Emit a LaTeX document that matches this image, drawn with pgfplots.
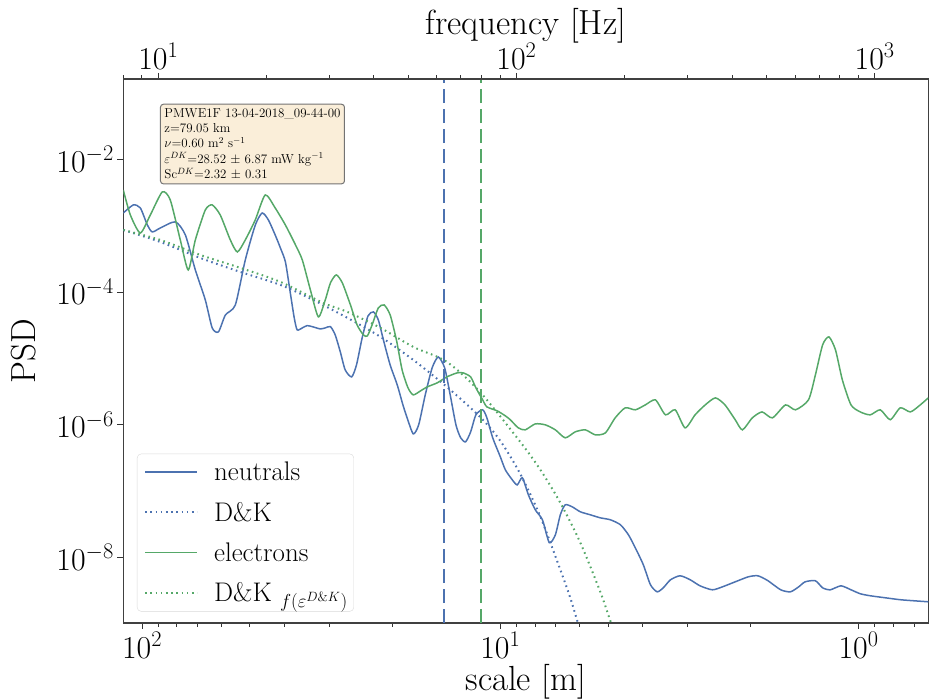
\documentclass[border=0pt]{standalone}
\usepackage{fix-cm}
\usepackage{pgfplots}
\pgfplotsset{compat=1.18}
\definecolor{cblue}{HTML}{4C72B0}
\definecolor{cgreen}{HTML}{55A868}
\definecolor{wheat}{HTML}{F5DEB3}
\begin{document}
\begin{tikzpicture}
\begin{axis}[
  name=main, at={(0,0)}, anchor=south west,
  scale only axis, width=805bp, height=544bp,
  xmode=log, ymode=log, x dir=reverse,
  xmin=0.639, xmax=112.8, ymin=1.03e-9, ymax=0.162,
  xtick={1,10,100},
  minor xtick={0.7,0.8,0.9,2,3,4,5,6,7,8,9,20,30,40,50,60,70,80,90},
  ytick={1e-2,1e-4,1e-6,1e-8}, minor ytick={},
  xtick pos=left, ytick pos=left,
  tick align=outside,
  major tick length=6bp, minor tick length=3.5bp,
  every tick/.style={line width=1bp, black!80},
  axis line style={line width=1.3bp, black!75},
  tick label style={font=\fontsize{32}{36}\selectfont},
  xlabel={scale [m]}, ylabel={PSD},
  xlabel style={font=\fontsize{35}{40}\selectfont, at={(axis description cs:0.5,-0.124)}, anchor=base},
  ylabel style={font=\fontsize{35}{40}\selectfont, at={(axis description cs:-0.1234,0.5)}, anchor=center, rotate=0},
  legend style={at={(0.017,0.021)}, anchor=south west, draw=black!15, rounded corners=4bp,
    fill=white, font=\fontsize{27}{32}\selectfont, inner xsep=4bp, inner ysep=6bp, row sep=16bp},
  legend cell align=left,
  legend image code/.code={\draw[#1] (0bp,0bp) -- (52bp,0bp); \path (-3bp,0bp) (66bp,0bp);},
]
\addplot[cblue, line width=1.5bp, smooth, tension=0.4] coordinates {
(112.8,1.55e-3) (105.8,2.05e-3) (101.1,1.85e-3) (96.6,1.02e-3) (93.6,8.04e-4) (88.9,9.23e-4)
(80.7,1.14e-3) (75.7,7.24e-4) (71.0,2.15e-4) (66.6,7.60e-5) (63.7,2.88e-5) (61.2,2.51e-5)
(58.5,4.52e-5) (54.9,6.39e-5) (51.5,3.04e-4) (48.3,1.02e-3) (46.2,1.55e-3)
(44.4,1.22e-3) (42.5,7.24e-4) (41.1,4.62e-4) (39.8,2.84e-4) (38.6,1.00e-4) (37.6,4.07e-5)
(36.9,2.69e-5) (35.7,2.88e-5) (34.6,3.12e-5) (33.3,2.98e-5) (31.8,2.78e-5) (30.8,2.88e-5)
(29.8,3.01e-5) (28.9,2.26e-5) (27.96,1.25e-5) (27.1,6.71e-6) (26.0,5.26e-6) (25.2,7.98e-6)
(24.3,2.04e-5) (23.4,4.37e-5) (22.6,5.01e-5) (21.9,3.80e-5) (21.2,1.90e-5) (20.3,7.98e-6)
(19.4,3.99e-6) (18.7,1.99e-6) (18.2,1.27e-6) (17.5,7.29e-7) (16.9,9.97e-7) (16.2,2.82e-6)
(15.5,7.19e-6) (14.9,1.05e-5) (14.3,7.19e-6) (13.8,2.82e-6) (13.3,9.97e-7) (12.9,6.35e-7)
(12.5,5.53e-7) (12.1,7.81e-7) (11.7,1.41e-6) (11.2,1.68e-6) (10.9,1.27e-6) (10.5,6.35e-7)
(10.0,3.29e-7) (9.68,2.09e-7) (9.26,1.48e-7)
(8.97,1.24e-7) (8.68,1.59e-7) (8.35,8.80e-8) (7.99,5.23e-8) (7.63,3.70e-8) (7.30,1.67e-8)
(7.02,2.20e-8) (6.80,4.40e-8) (6.59,6.22e-8) (6.30,5.80e-8) (5.98,4.88e-8) (5.61,4.40e-8)
(5.26,3.96e-8) (4.93,3.70e-8) (4.62,3.11e-8) (4.39,2.20e-8) (4.20,1.40e-8) (3.99,7.77e-9)
(3.81,3.88e-9) (3.65,3.04e-9) (3.51,3.49e-9) (3.35,4.61e-9) (3.15,5.30e-9) (2.95,4.61e-9)
(2.77,3.74e-9) (2.56,3.26e-9) (2.40,3.61e-9) (2.21,4.30e-9) (2.03,5.12e-9) (1.91,5.30e-9)
(1.79,4.46e-9) (1.65,3.26e-9) (1.55,3.04e-9) (1.47,3.61e-9) (1.41,4.30e-9) (1.32,4.46e-9)
(1.26,3.49e-9) (1.20,3.26e-9) (1.12,3.74e-9) (1.05,3.26e-9) (0.989,2.84e-9) (0.928,2.65e-9)
(0.842,2.47e-9) (0.765,2.31e-9) (0.695,2.22e-9) (0.639,2.15e-9)
};
\addlegendentry{neutrals}
\addplot[cblue, line width=2bp, dash pattern=on 1.6bp off 3.6bp, smooth] coordinates {
(112.8,8.61e-4) (88.9,5.68e-4) (68.8,3.26e-4) (53.2,2.01e-4) (41.1,1.28e-4) (33.3,7.60e-5)
(26.7,4.07e-5) (21.6,2.11e-5) (17.5,9.49e-6) (14.1,3.72e-6) (11.4,1.32e-6) (10.0,5.72e-7)
(8.80,1.82e-7) (7.73,4.10e-8) (6.80,6.53e-9) (6.38,2.47e-9) (6.06,1.00e-9) (5.83,5.76e-10)
};
\addlegendentry{D\&K}
\addplot[cgreen, line width=1.5bp, smooth, tension=0.4] coordinates {
(112.8,3.45e-3) (107.8,1.45e-3) (101.1,7.76e-4) (94.8,1.45e-3) (87.8,3.22e-3) (83.4,2.44e-3)
(78.2,6.09e-4) (74.3,2.15e-4) (71.0,6.09e-4) (66.6,1.72e-3) (63.7,2.05e-3) (60.5,1.45e-3)
(56.7,6.09e-4) (54.2,4.02e-4) (51.5,6.09e-4) (48.3,1.22e-3) (45.3,2.90e-3)
(42.5,1.85e-3) (39.8,1.02e-3) (37.3,5.12e-4) (35.7,3.04e-4) (33.9,1.08e-4) (32.2,4.22e-5)
(30.8,7.60e-5) (29.8,1.37e-4) (28.7,1.81e-4) (27.6,1.37e-4) (26.2,6.39e-5) (25.1,3.19e-5)
(24.1,2.26e-5) (23.5,2.18e-5) (22.8,3.19e-5) (21.9,5.76e-5) (21.1,6.39e-5) (20.3,4.52e-5)
(19.5,1.90e-5) (18.8,6.71e-6) (18.1,3.60e-6) (17.5,2.82e-6) (16.7,3.24e-6) (16.0,3.72e-6)
(15.0,4.28e-6) (14.1,5.26e-6) (13.2,6.05e-6) (12.7,6.05e-6) (12.1,5.26e-6) (11.7,3.60e-6)
(11.2,2.37e-6) (10.9,1.86e-6) (10.2,1.62e-6) (9.68,1.36e-6) (9.38,1.19e-6) (8.91,8.98e-7)
(8.52,8.38e-7) (7.99,1.03e-6) (7.49,9.97e-7) (7.02,8.38e-7)
(6.59,6.35e-7) (6.18,7.81e-7) (5.79,8.38e-7) (5.43,7.04e-7) (5.09,7.55e-7) (4.78,1.27e-6)
(4.48,1.80e-6) (4.20,1.68e-6) (3.94,1.99e-6) (3.69,2.37e-6) (3.46,1.41e-6) (3.25,1.68e-6)
(3.05,8.98e-7) (2.86,1.41e-6) (2.68,1.99e-6) (2.51,2.54e-6) (2.36,1.99e-6) (2.21,1.19e-6)
(2.11,8.38e-7) (1.98,1.27e-6) (1.86,1.56e-6) (1.74,1.27e-6) (1.60,1.99e-6) (1.50,1.68e-6)
(1.38,2.37e-6) (1.32,5.64e-6) (1.26,1.60e-5) (1.21,2.11e-5) (1.16,1.34e-5) (1.11,4.74e-6)
(1.05,1.99e-6) (0.989,1.56e-6) (0.928,1.41e-6) (0.870,1.68e-6) (0.816,1.19e-6) (0.765,1.80e-6)
(0.717,1.56e-6) (0.673,1.99e-6) (0.639,2.54e-6)
};
\addlegendentry{electrons}
\addplot[cgreen, line width=2bp, dash pattern=on 1.6bp off 3.6bp, smooth] coordinates {
(112.8,8.61e-4) (88.9,6.09e-4) (68.8,3.62e-4) (53.2,2.31e-4) (41.1,1.42e-4) (31.2,6.85e-5)
(26.7,5.01e-5) (21.6,2.88e-5) (17.5,1.49e-5) (14.1,8.86e-6) (11.4,3.13e-6) (8.80,5.53e-7)
(7.73,2.09e-7) (6.80,6.67e-8) (5.98,1.67e-8) (5.26,3.04e-9) (4.93,1.11e-9) (4.81,8.15e-10)
};
\addlegendentry{D\&K $_{f(\varepsilon^{D\&K})}$}
\addplot[draw=cblue, color=cblue, line width=1.8bp, dash pattern=on 14bp off 6bp, forget plot] coordinates {(14.39,1.03e-9) (14.39,0.162)};
\addplot[draw=cgreen, color=cgreen, line width=1.8bp, dash pattern=on 14bp off 6bp, forget plot] coordinates {(11.30,1.03e-9) (11.30,0.162)};
\node[anchor=north west, draw=black!55, line width=1bp, rounded corners=3bp, fill=wheat!50!white,
  font=\fontsize{13}{15.5}\selectfont, align=left, inner sep=4bp]
  at (rel axis cs:0.0456,0.9546) {PMWE1F 13-04-2018\_09-44-00\\ z=79.05 km\\ $\nu$=0.60 m$^2$ s$^{-1}$\\
  $\varepsilon^{DK}$=28.52 $\pm$ 6.87 mW kg$^{-1}$\\ Sc$^{DK}$=2.32 $\pm$ 0.31};
\end{axis}
\begin{axis}[
  at={(0,0)}, anchor=south west,
  scale only axis, width=805bp, height=544bp,
  xmode=log, xmin=7.99, xmax=1412, ymin=0, ymax=1,
  axis x line*=top, hide y axis,
  axis line style={line width=1.3bp, black!75, -},
  xtick={10,100,1000},
  minor xtick={8,9,20,30,40,50,60,70,80,90,200,300,400,500,600,700,800,900},
  tick align=outside,
  major tick length=6bp, minor tick length=3.5bp,
  every tick/.style={line width=1bp, black!80},
  tick label style={font=\fontsize{32}{36}\selectfont},
  xlabel={frequency [Hz]},
  xlabel style={font=\fontsize{35}{40}\selectfont, at={(axis description cs:0.5,1.081)}, anchor=base},
]
\addplot[draw=none] coordinates {(10,0.5)};
\end{axis}
\pgfresetboundingbox
\path (-123.3bp,-76.7bp) rectangle (805.7bp,623.0bp);
\end{tikzpicture}
\end{document}
